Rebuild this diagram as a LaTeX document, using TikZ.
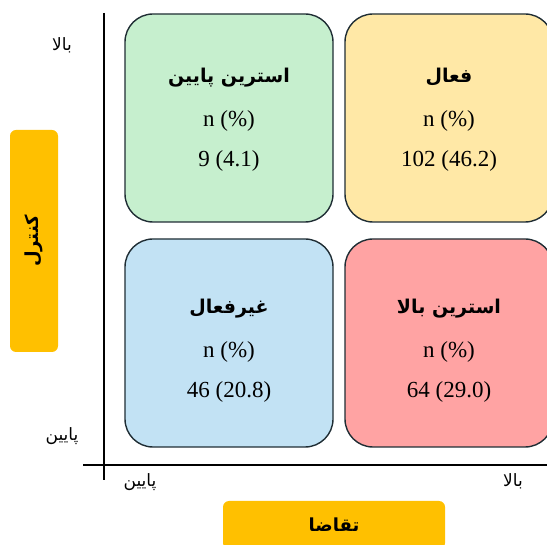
\documentclass[tikz,border=0pt]{standalone}
\usepackage{fontspec}
\setmainfont{Liberation Serif}
\newfontfamily\farsi[Script=Arabic]{DejaVu Sans}
\TeXXeTstate=1

\definecolor{quadgreen}{RGB}{198,239,206}
\definecolor{quadyellow}{RGB}{255,232,166}
\definecolor{quadblue}{RGB}{194,226,244}
\definecolor{quadred}{RGB}{255,163,163}
\definecolor{tagorange}{RGB}{255,192,0}
\definecolor{edgeink}{RGB}{31,45,52}

\begin{document}
\begin{tikzpicture}[x=1pt, y=-1pt,
                    quad box/.style={rounded corners=28pt, draw=edgeink, line width=1.4pt,
                      minimum width=208pt, minimum height=208pt, inner sep=0pt},
                    quad text/.style={align=center, inner sep=0pt, font=\fontsize{23}{40}\selectfont},
                    tag node/.style={fill=tagorange, rounded corners=6pt, inner sep=0pt,
                      minimum width=222pt, minimum height=48pt,
                      font=\farsi\bfseries\fontsize{18}{20}\selectfont},
                    axis label/.style={font=\farsi\fontsize{17}{20}\selectfont}]

  \useasboundingbox (0,0) rectangle (547,545);
  \clip (0,0) rectangle (547,545);

  % quadrants
  \node[quad box, fill=quadgreen]  (low)     at (229,118) {};
  \node[quad box, fill=quadyellow] (active)  at (449,118) {};
  \node[quad box, fill=quadblue]   (passive) at (229,343) {};
  \node[quad box, fill=quadred]    (high)    at (449,343) {};

  \node[quad text] (low text) at ([yshift=-2pt]low)
    {{\farsi\bfseries\fontsize{19}{40}\selectfont\beginR استرین پایین\endR}\\[4pt] n (\%)\\ 9 (4.1)};
  \node[quad text] (active text) at ([yshift=-2pt]active)
    {{\farsi\bfseries\fontsize{19}{40}\selectfont\beginR فعال\endR}\\[4pt] n (\%)\\ 102 (46.2)};
  \node[quad text] (passive text) at ([yshift=-8pt]passive)
    {{\farsi\bfseries\fontsize{19}{40}\selectfont\beginR غیرفعال\endR}\\[4pt] n (\%)\\ 46 (20.8)};
  \node[quad text] (high text) at ([yshift=-8pt]high)
    {{\farsi\bfseries\fontsize{19}{40}\selectfont\beginR استرین بالا\endR}\\[4pt] n (\%)\\ 64 (29.0)};

  % axes
  \coordinate (ytop) at (104,13);
  \coordinate (ybot) at (104,480);
  \coordinate (xleft) at (83,465);
  \coordinate (xright) at (547,465);
  \draw[line width=1.6pt] (ytop) -- (ybot);
  \draw[line width=1.6pt] (xleft) -- (xright);

  \node[axis label] (ctrlhigh) at (62,45)  {\beginR بالا\endR};
  \node[axis label] (ctrllow)  at (62,436) {\beginR پایین\endR};
  \node[axis label] (demlow)   at (140,482) {\beginR پایین\endR};
  \node[axis label] (demhigh)  at (513,481) {\beginR بالا\endR};

  % axis titles
  \node[tag node, rotate=90] (control) at (34,241) {\beginR کنترل\endR};
  \node[tag node] (demand) at (334,525) {\beginR تقاضا\endR};

\end{tikzpicture}
\end{document}
